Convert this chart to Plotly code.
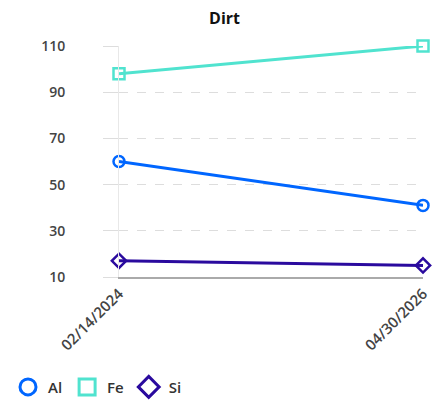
import plotly.graph_objects as go

dates = ["02/14/2024", "04/30/2026"]
al = [60, 41]
fe = [98, 110]
si = [17, 15]
y_ticks = [10, 30, 50, 70, 90, 110]

series = [
    ("Al", al, "#0066ff", "circle-open"),
    ("Fe", fe, "#50e3cf", "square-open"),
    ("Si", si, "#2a0a9e", "diamond-open"),
]

fig = go.Figure()
for name, vals, color, sym in series:
    fig.add_trace(go.Scatter(
        x=dates, y=vals, mode="lines+markers", name=name, showlegend=False,
        line=dict(color=color, width=3),
        marker=dict(symbol=sym, size=11, color=color, line=dict(color=color, width=2.5)),
        cliponaxis=False,
    ))
for name, vals, color, sym in series:
    fig.add_trace(go.Scatter(
        x=[None], y=[None], mode="markers", name=name, showlegend=True,
        marker=dict(symbol=sym, size=20, color=color, line=dict(color=color, width=3)),
    ))

font = dict(family="Open Sans", size=14, color="#444", weight=600)
fig.update_layout(
    width=433, height=397,
    margin=dict(l=111, r=18, t=38, b=128, autoexpand=False),
    paper_bgcolor="white", plot_bgcolor="white",
    title=dict(text="<b>Dirt</b>", x=0.5, xanchor="center", y=0.975, yanchor="middle",
               font=dict(family="Open Sans", size=16, color="#111")),
    font=font,
    showlegend=True,
    legend=dict(orientation="h", xref="container", yref="container",
                x=0.0, xanchor="left", y=0.045, yanchor="middle",
                font=dict(family="Open Sans", size=15, color="#333", weight=600),
                itemsizing="trace", tracegroupgap=0),
    xaxis=dict(type="category", range=[0, 1], showgrid=False,
               showline=True, linecolor="#aaa", linewidth=2,
               tickangle=-45, tickfont=dict(family="Open Sans", size=15, color="#444", weight=600),
               ticks="", zeroline=False),
    yaxis=dict(range=[10, 110], tickvals=y_ticks, showgrid=True, gridcolor="#ddd",
               griddash="dash", gridwidth=1, ticks="outside", ticklen=15,
               tickcolor="#ddd", tickwidth=1, showline=True, linecolor="#e8e8e8",
               linewidth=1, zeroline=False, tickfont=font, ticklabelstandoff=35),
)

fig.write_html("out.html")
